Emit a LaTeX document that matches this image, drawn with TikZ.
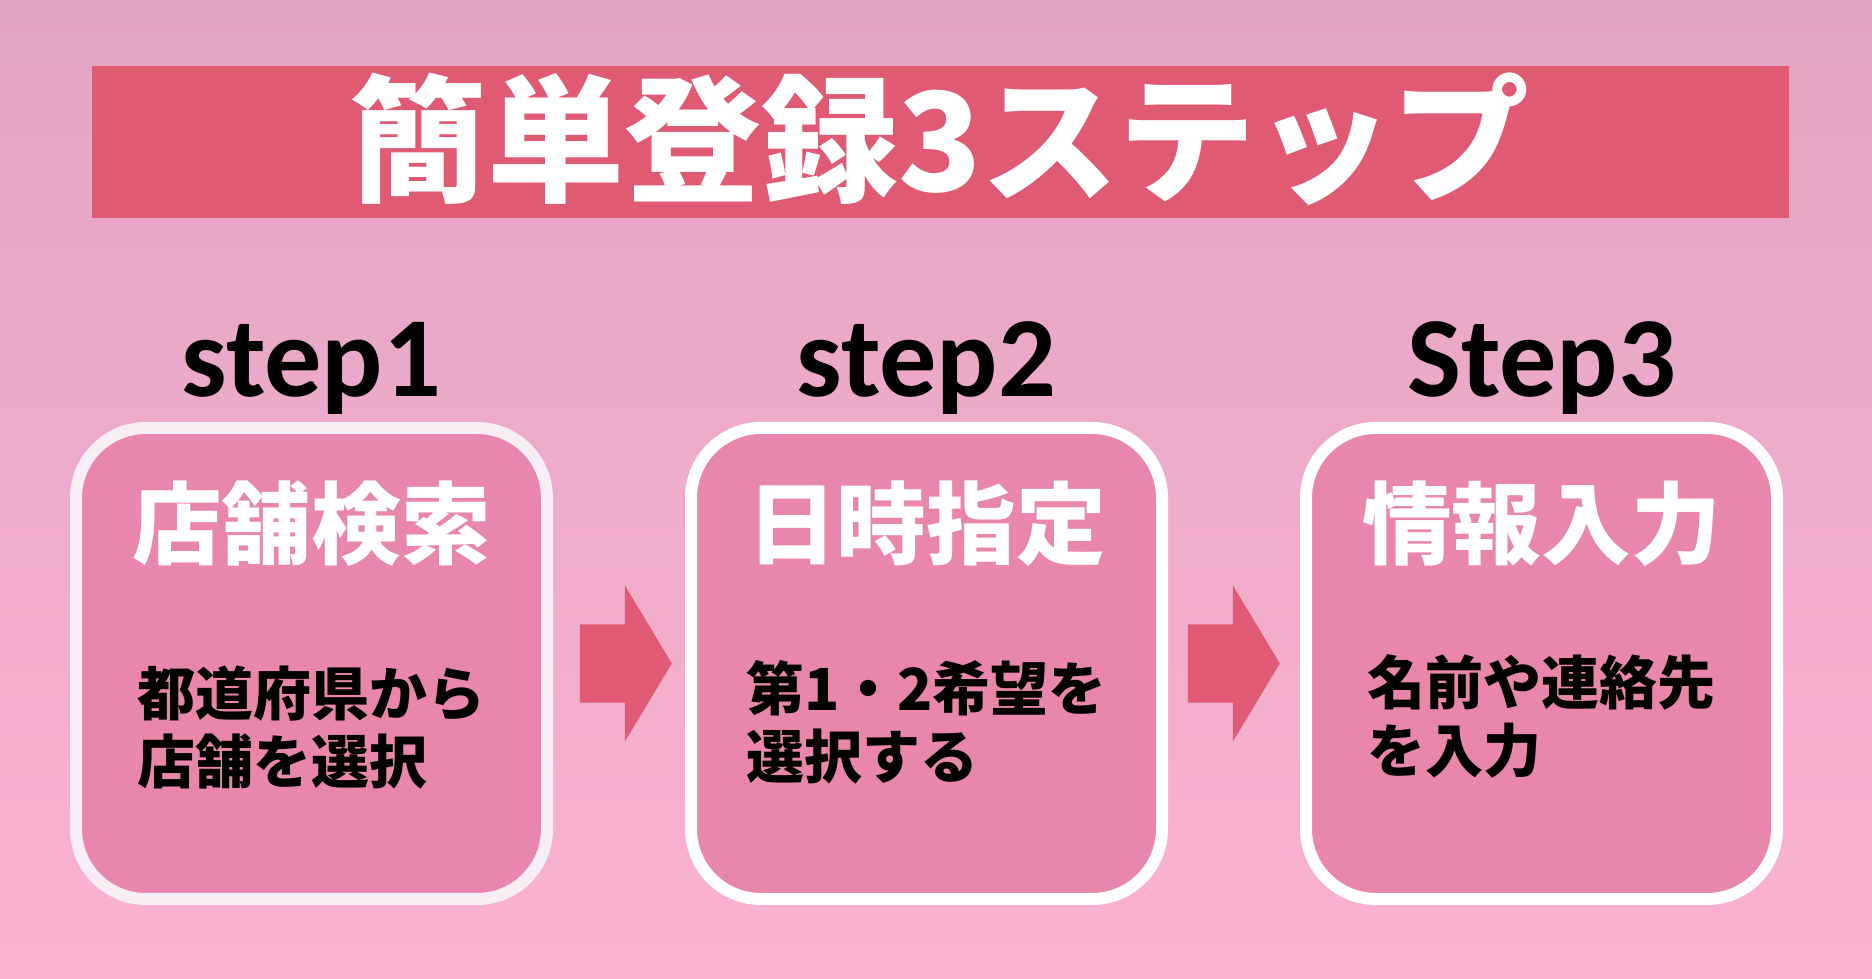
\documentclass[tikz,border=0pt]{standalone}
\usepackage{fontspec}
\usepackage{xcolor}
\usepackage{tikz}
\usetikzlibrary{positioning,calc,shapes.arrows}
\newfontfamily\jpfont{Noto Sans CJK JP}
\newfontfamily\stepfont{Carlito}
\definecolor{RegBgTop}{HTML}{E2A4C4}
\definecolor{RegBgBot}{HTML}{FBB2D0}
\definecolor{RegRed}{HTML}{E05A74}
\definecolor{RegPink}{HTML}{E986AB}
\definecolor{RegEdge}{HTML}{F7EEF4}

\begin{document}
\begin{tikzpicture}[x=1cm,y=1cm,
  card/.style={draw=white,line width=.12cm,fill=RegPink,rounded corners=.7cm,
    minimum width=4.71cm,minimum height=4.71cm,inner sep=0pt},
  cardhead/.style={font=\jpfont\bfseries\fontsize{25.5pt}{30pt}\selectfont,text=white,inner sep=0pt},
  cardbody/.style={font=\jpfont\bfseries\fontsize{16.5pt}{19.4pt}\selectfont,align=left,inner sep=0pt},
  steplabel/.style={font=\stepfont\bfseries\fontsize{32.5pt}{36pt}\selectfont,anchor=base,inner sep=0pt},
  nextarrow/.style={single arrow,fill=RegRed,draw=none,minimum height=.92cm,minimum width=1.55cm,
    single arrow head extend=.39cm,single arrow tip angle=118,inner xsep=0pt,inner ysep=.385cm}]
\path[use as bounding box] (0,0) rectangle (18.72,9.79);
\shade[top color=RegBgTop,bottom color=RegBgBot] (0,0) rectangle (18.72,9.79);
% title banner
\fill[RegRed] (0.92,7.61) rectangle (17.89,9.13);
\node[font=\jpfont\bfseries\fontsize{39pt}{44pt}\selectfont,text=white,inner sep=0pt] (title) at (9.40,8.40) {簡単登録3ステップ};
% the three steps
\node[card,draw=RegEdge] (card1) at (3.115,3.155) {};
\node[card,right=1.32cm of card1] (card2) {};
\node[card,right=1.32cm of card2] (card3) {};
\node[steplabel] (step1) at ([yshift=.25cm]card1.north) {step1};
\node[steplabel] (step2) at ([yshift=.25cm]card2.north) {step2};
\node[steplabel] (step3) at ([yshift=.25cm]card3.north) {Step3};
\node[cardhead] (head1) at ([yshift=-1.02cm]card1.north) {店舗検索};
\node[cardhead] (head2) at ([yshift=-1.02cm]card2.north) {日時指定};
\node[cardhead] (head3) at ([yshift=-1.02cm]card3.north) {情報入力};
\node[cardbody] (body1) at ([yshift=-.64cm]card1.center) {都道府県から\\店舗を選択};
\node[cardbody] (body2) at ([yshift=-.59cm]card2.center) {第1・2希望を\\選択する};
\node[cardbody] (body3) at ([yshift=-.53cm]card3.center) {名前や連絡先\\を入力};
% arrows between the cards
\node[nextarrow] (arrow1) at ($(card1.east)!.5!(card2.west)+(-.05,0)$) {};
\node[nextarrow] (arrow2) at ($(card2.east)!.5!(card3.west)+(-.12,0)$) {};
\end{tikzpicture}
\end{document}
